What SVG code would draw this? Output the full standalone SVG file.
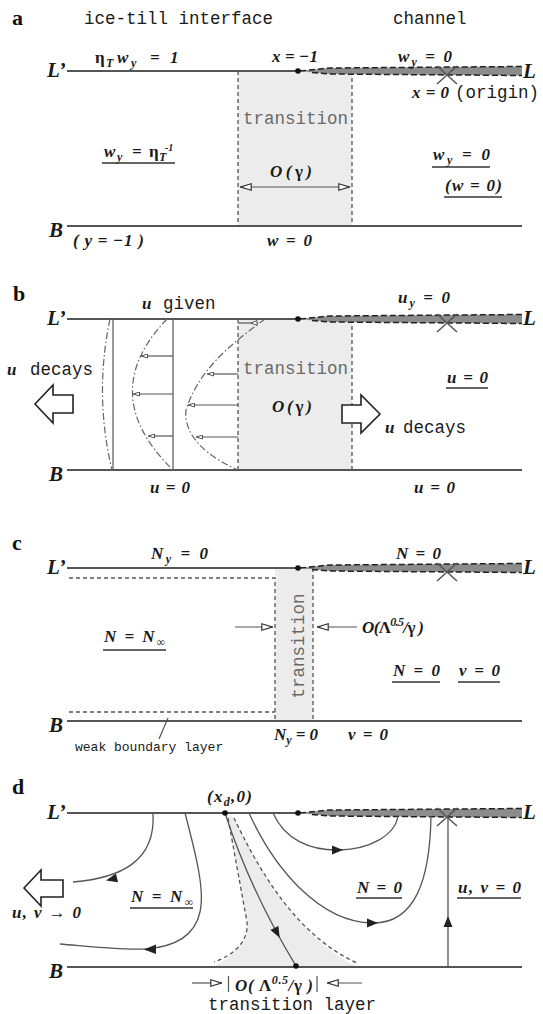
<svg xmlns="http://www.w3.org/2000/svg" width="543" height="1014" viewBox="0 0 543 1014">
<style>
.ln{stroke:#555;stroke-width:1.8;fill:none}
.dash{stroke:#555;stroke-width:1.3;stroke-dasharray:4 3;fill:none}
.dd{stroke:#666;stroke-width:1.2;stroke-dasharray:7 2.5 1.5 2.5;fill:none}
.thin{stroke:#555;stroke-width:1.2;fill:none}
.st{stroke:#555;stroke-width:1.3;fill:none}
.zone{fill:#ececec}
.ah{fill:#222}
.blk{fill:#fff;stroke:#222;stroke-width:1.6}
.ul{stroke:#333;stroke-width:1.3}
.m{font-family:"Liberation Serif","Times New Roman",serif;font-style:italic;font-weight:bold;font-size:17px;fill:#1a1a1a}
.up{font-style:normal}
.sub{font-size:12px}
.mono{font-family:"Liberation Mono","Courier New",monospace;font-size:17.5px;fill:#1a1a1a}
.grey{fill:#6a6a6a}
.lbl{font-family:"Liberation Serif","Times New Roman",serif;font-weight:bold;font-size:22px;fill:#111}
.edge{font-family:"Liberation Serif","Times New Roman",serif;font-style:italic;font-weight:bold;font-size:21px;fill:#1a1a1a}
</style>
<defs>
<marker id="open" viewBox="0 0 12 8" refX="12" refY="4" markerWidth="12" markerHeight="8" markerUnits="userSpaceOnUse" orient="auto-start-reverse"><path d="M0.8,0.8 L11.2,4 L0.8,7.2 Z" fill="#fff" stroke="#333" stroke-width="1.2"/></marker>
<marker id="openS" viewBox="0 0 7 5" refX="7" refY="2.5" markerWidth="7" markerHeight="5" markerUnits="userSpaceOnUse" orient="auto"><path d="M0.5,0.5 L6.5,2.5 L0.5,4.5 Z" fill="#fff" stroke="#444" stroke-width="0.9"/></marker>
<g id="band">
<path d="M298,0 L330,-3 L522,-4.5 L522,4.5 L330,3 Z" fill="#8c8c8c"/>
<path d="M300,0 L330,-3 L522,-4.5 M312,1.5 L330,3 L522,4.5" fill="none" stroke="#222" stroke-width="1.5" stroke-dasharray="6 3"/>
<path d="M437,-5 L457,13 M457,-5 L437,13" stroke="#555" stroke-width="1.5" fill="none"/>
<circle cx="298" cy="0" r="2.8" fill="#111"/>
</g>
</defs>

<!-- Panel a -->
<g id="panel-a">
<g id="a-transition"><rect x="238" y="71" width="114" height="155" class="zone"/><path d="M238,71 V226 M352,71 V226" class="dash"/></g>
<g id="a-boundaries"><path d="M67,71 H300 M67,226 H522" class="ln"/><use href="#band" y="71"/></g>
<text class="lbl" x="12" y="25">a</text>
<text class="mono" x="84" y="24">ice-till interface</text>
<text class="mono" x="393" y="24">channel</text>
<text class="edge" x="47" y="77">L’</text>
<text class="edge" x="523" y="78">L</text>
<text class="m" y="63"><tspan class="up" x="95">η</tspan><tspan class="sub" x="106" dy="4">T</tspan><tspan x="117" dy="-4">w</tspan><tspan class="sub" x="131" dy="4">y</tspan><tspan x="150" dy="-4">=</tspan><tspan x="170">1</tspan></text>
<text class="m" x="272" y="62" textLength="46">x = −1</text>
<text class="m" x="398" y="62" textLength="54">w<tspan class="sub" dy="4">y</tspan><tspan dy="-4"> = 0</tspan></text>
<text class="m" x="412" y="98" textLength="37">x = 0</text>
<text class="mono" x="455" y="98">(origin)</text>
<text class="mono grey" x="243" y="124">transition</text>
<g id="a-left-eq"><text class="m" y="157"><tspan x="104">w</tspan><tspan class="sub" x="117" dy="4">y</tspan><tspan x="132" dy="-4">=</tspan><tspan class="up" x="149">η</tspan><tspan class="sub" x="159" dy="4">T</tspan><tspan style="font-size:10px" x="165" dy="-10">-1</tspan></text><line x1="102" y1="163" x2="175" y2="163" class="ul"/></g>
<text class="m" x="270" y="177" textLength="42">O(<tspan class="up">γ</tspan>)</text>
<line x1="240" y1="187" x2="350" y2="187" class="thin" marker-start="url(#open)" marker-end="url(#open)"/>
<g id="a-right-eq"><text class="m" x="433" y="160" textLength="57">w<tspan class="sub" dy="4">y</tspan><tspan dy="-4"> = 0</tspan></text><line x1="432" y1="167" x2="490" y2="167" class="ul"/>
<text class="m" x="445" y="191" textLength="57">(w = 0)</text><line x1="444" y1="197" x2="502" y2="197" class="ul"/></g>
<text class="edge" x="49" y="237">B</text>
<text class="m" x="73" y="246" textLength="71">( y = −1 )</text>
<text class="m" x="267" y="246" textLength="45">w = 0</text>
</g>

<!-- Panel b -->
<g id="panel-b">
<g id="b-transition"><rect x="238" y="319" width="114" height="151" class="zone"/><path d="M238,319 V470 M352,319 V470" class="dash"/></g>
<g id="b-boundaries"><path d="M67,319 H300 M67,470 H522" class="ln"/><use href="#band" y="319"/></g>
<g id="b-profiles">
<path d="M113,319 V470 M173,319 V470" class="thin"/>
<path d="M110,319 Q94,395 112,470" class="dd"/>
<path d="M167,319 Q95,394 173,470" class="dd"/>
<path d="M265,319 C240,338 200,365 186,410 C183,440 215,460 238,470" class="dd"/>
<line x1="173" y1="356" x2="141" y2="356" class="thin" marker-end="url(#openS)"/>
<line x1="173" y1="394" x2="133" y2="394" class="thin" marker-end="url(#openS)"/>
<line x1="173" y1="436" x2="148" y2="436" class="thin" marker-end="url(#openS)"/>
<line x1="238" y1="323" x2="258" y2="323" class="thin"/>
<path d="M251,323 L257,320.5 L257,325.5 Z" fill="#fff" stroke="#444" stroke-width="0.9"/>
<line x1="238" y1="374" x2="207" y2="374" class="thin" marker-end="url(#openS)"/>
<line x1="238" y1="405" x2="188" y2="405" class="thin" marker-end="url(#openS)"/>
<line x1="238" y1="437" x2="196" y2="437" class="thin" marker-end="url(#openS)"/>
</g>
<polygon class="blk" points="35,404 53,385 53,395 73,395 73,413 53,413 53,423"/>
<polygon class="blk" points="380,414 361,395 361,405 342,405 342,423 361,423 361,433"/>
<text class="lbl" x="13" y="301">b</text>
<text class="edge" x="47" y="325">L’</text>
<text class="edge" x="523" y="325">L</text>
<text class="m" x="142" y="309">u</text><text class="mono" x="163" y="309">given</text>
<text class="m" x="398" y="303" textLength="52">u<tspan class="sub" dy="4">y</tspan><tspan dy="-4"> = 0</tspan></text>
<text class="m" x="7" y="375">u</text><text class="mono" x="30" y="375">decays</text>
<text class="mono grey" x="243" y="374">transition</text>
<text class="m" x="272" y="412" textLength="40">O(<tspan class="up">γ</tspan>)</text>
<text class="m" x="447" y="383" textLength="41">u = 0</text><line x1="446" y1="388" x2="488" y2="388" class="ul"/>
<text class="m" x="385" y="433">u</text><text class="mono" x="403" y="433">decays</text>
<text class="edge" x="49" y="481">B</text>
<text class="m" x="150" y="493" textLength="40">u = 0</text>
<text class="m" x="414" y="493" textLength="41">u = 0</text>
</g>

<!-- Panel c -->
<g id="panel-c">
<g id="c-transition"><rect x="275" y="568" width="38" height="153" class="zone"/>
<path d="M69,578 H275 V721 M69,712 H275 M313,568 V721" class="dash"/>
<text class="mono grey" transform="translate(304,646) rotate(-90)" text-anchor="middle">transition</text></g>
<g id="c-boundaries"><path d="M67,568 H300 M67,721 H522" class="ln"/><use href="#band" y="568"/></g>
<line x1="235" y1="627" x2="273" y2="627" class="thin" marker-end="url(#open)"/>
<line x1="357" y1="627" x2="317" y2="627" class="thin" marker-end="url(#open)"/>
<line x1="168" y1="718" x2="159" y2="739" class="thin"/>
<text class="lbl" x="12" y="550">c</text>
<text class="edge" x="47" y="574">L’</text>
<text class="edge" x="523" y="574">L</text>
<text class="m" x="151" y="559" textLength="57">N<tspan class="sub" dy="4">y</tspan><tspan dy="-4"> = 0</tspan></text>
<text class="m" x="396" y="559" textLength="45">N = 0</text>
<text class="m" x="362" y="633" textLength="62">O(<tspan class="up">Λ</tspan><tspan class="sub" dy="-7">0.5</tspan><tspan dy="7">/</tspan><tspan class="up">γ</tspan> )</text>
<text class="m" x="104" y="642" textLength="61">N = N<tspan class="sub" dy="4">∞</tspan></text><line x1="103" y1="650" x2="166" y2="650" class="ul"/>
<text class="m" x="393" y="676" textLength="47">N = 0</text><line x1="392" y1="682" x2="440" y2="682" class="ul"/>
<text class="m" x="459" y="676" textLength="41">v = 0</text><line x1="458" y1="682" x2="500" y2="682" class="ul"/>
<text class="edge" x="49" y="732">B</text>
<text class="m" x="274" y="740" textLength="44">N<tspan class="sub" dy="4">y</tspan><tspan dy="-4"> = 0</tspan></text>
<text class="m" x="348" y="740" textLength="40">v = 0</text>
<text class="mono" x="75" y="751" style="font-size:13px">weak boundary layer</text>
</g>

<!-- Panel d -->
<g id="panel-d">
<g id="d-transition">
<path d="M225,813 L228,818 L247,922 C249,940 235,955 213,967 L357,967 C295,935 258,868 234,818 Z" class="zone"/>
<path d="M228,818 L247,922 C249,940 235,955 214,962" class="dash"/>
<path d="M234,818 C258,868 295,935 357,963" class="dash"/>
</g>
<g id="d-boundaries"><path d="M67,813 H300 M67,967 H522" class="ln"/><use href="#band" y="813"/></g>
<g id="connectors">
<path d="M153,813 C156,862 120,878 73,882" class="st"/>
<path d="M185,813 C196,855 205,890 200,912 C195,935 175,947 145,949 C115,950 85,946 60,944" class="st"/>
<path d="M249,813 C275,870 320,922 372,923 C415,924 430,880 431,816" class="st"/>
<path d="M273,813 C285,840 310,850 337,850 C370,850 395,835 398,816" class="st"/>
<path d="M448,967 V817" class="st"/>
<path d="M225,813 Q250,890 296,966" class="st"/>
<polygon class="ah" points="106,880.5 118.1,882.2 115.9,873.4"/>
<polygon class="ah" points="144,949.5 156,944.5 156,954"/>
<polygon class="ah" points="378,923 367,918.5 367,927.5"/>
<polygon class="ah" points="343,850 332,845.5 332,854.5"/>
<polygon class="ah" points="448,916 443.5,927 452.5,927"/>
<polygon class="ah" points="279.7,937.7 278.4,925.9 270.4,930.1"/>
</g>
<circle cx="225" cy="813" r="2.8" fill="#111"/>
<circle cx="296" cy="966" r="2.8" fill="#111"/>
<polygon class="blk" points="24,888 41,870 41,880 63,880 63,897 41,897 41,906"/>
<text class="lbl" x="12" y="794">d</text>
<text class="m" x="207" y="802" textLength="45">(x<tspan class="sub" dy="4">d</tspan><tspan dy="-4">,0)</tspan></text>
<text class="edge" x="47" y="819">L’</text>
<text class="edge" x="523" y="819">L</text>
<text class="m" x="12" y="918" textLength="69">u, v → 0</text>
<text class="m" x="131" y="902" textLength="62">N = N<tspan class="sub" dy="4">∞</tspan></text><line x1="130" y1="908" x2="193" y2="908" class="ul"/>
<text class="m" x="357" y="893" textLength="45">N = 0</text><line x1="356" y1="898" x2="402" y2="898" class="ul"/>
<text class="m" x="458" y="893" textLength="63">u, v = 0</text><line x1="457" y1="898" x2="521" y2="898" class="ul"/>
<text class="edge" x="49" y="978">B</text>
<line x1="192" y1="983" x2="222" y2="983" class="thin" marker-end="url(#open)"/>
<line x1="362" y1="983" x2="327" y2="983" class="thin" marker-end="url(#open)"/>
<path d="M228.5,976 V992 M317,976 V992" class="thin"/>
<text class="m" x="235" y="991" textLength="78">O( <tspan class="up">Λ</tspan><tspan class="sub" dy="-7">0.5</tspan><tspan dy="7">/</tspan><tspan class="up">γ</tspan> )</text>
<text class="mono" x="208" y="1010">transition layer</text>
</g>
</svg>
